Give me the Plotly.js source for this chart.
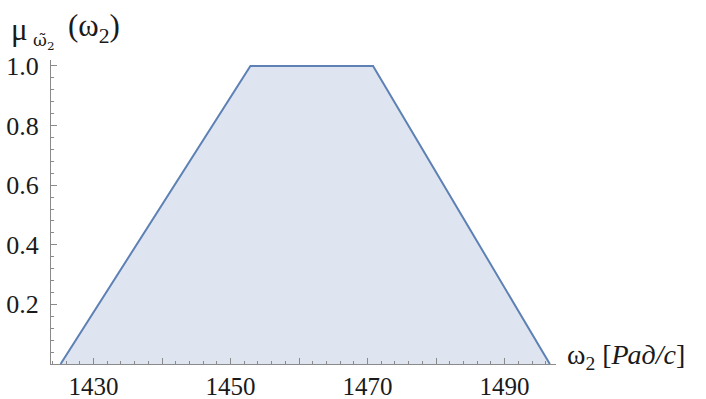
<!DOCTYPE html>
<html>
<head>
<meta charset="utf-8">
<script src="https://cdn.plot.ly/plotly-3.0.1.min.js"></script>
<style>html,body{margin:0;padding:0;background:#fff;}#chart{width:706px;height:399px;}</style>
</head>
<body>
<div id="chart"></div>
<script>
// Trapezoidal membership function of omega_2
const omega = [1425.2, 1452.9, 1470.8, 1496.6];
const mu = [0, 1, 1, 0];

const xTickVals = [1430, 1440, 1450, 1460, 1470, 1480, 1490];
const xTickText = ['1430', '', '1450', '', '1470', '', '1490'];
const yTickVals = [0.2, 0.4, 0.6, 0.8, 1.0];
const yTickText = ['0.2', '0.4', '0.6', '0.8', '1.0'];

const lineColor = 'rgb(94,129,181)';
const fillColor = 'rgb(222,229,240)';
const axisColor = '#8a8a8a';
const font = 'Liberation Serif';

const trace = {
  x: omega, y: mu, type: 'scatter', mode: 'lines',
  fill: 'tozeroy', fillcolor: fillColor,
  line: {color: lineColor, width: 2},
  hoverinfo: 'none'
};

const layout = {
  width: 706, height: 399,
  margin: {l: 51, r: 150, t: 60, b: 35},
  paper_bgcolor: '#fff', plot_bgcolor: '#fff',
  showlegend: false,
  font: {family: font, size: 25, color: '#1a1a1a'},
  xaxis: {
    range: [1423.8, 1497.5], showgrid: false, zeroline: false,
    showline: true, linecolor: axisColor, linewidth: 1,
    tickmode: 'array', tickvals: xTickVals, ticktext: xTickText,
    ticks: 'inside', ticklen: 6, tickcolor: axisColor, tickwidth: 1,
    ticklabelstandoff: 0,
    minor: {dtick: 2, tick0: 1430, ticks: 'inside', ticklen: 3, tickcolor: axisColor, showgrid: false},
    tickfont: {family: font, size: 25, color: '#1a1a1a'}
  },
  yaxis: {
    range: [0, 1.02], showgrid: false, zeroline: false,
    showline: true, linecolor: axisColor, linewidth: 1,
    tickmode: 'array', tickvals: yTickVals, ticktext: yTickText,
    ticks: 'inside', ticklen: 6, tickcolor: axisColor, tickwidth: 1,
    ticklabelstandoff: 6,
    minor: {dtick: 0.04, tick0: 0, ticks: 'inside', ticklen: 3, tickcolor: axisColor, showgrid: false},
    tickfont: {family: font, size: 26, color: '#1a1a1a'}
  },
  annotations: [
    {text: 'μ', xref: 'paper', yref: 'paper', x: -0.083, y: 1.1, xanchor: 'left', yanchor: 'middle', showarrow: false, font: {family: font, size: 31, color: '#1a1a1a'}},
    {text: 'ω\u0303<sub>2</sub>', xref: 'paper', yref: 'paper', x: -0.04, y: 1.062, xanchor: 'left', yanchor: 'middle', showarrow: false, font: {family: 'DejaVu Serif', size: 17, color: '#1a1a1a'}},
    {text: '(ω<sub>2</sub>)', xref: 'paper', yref: 'paper', x: 0.03, y: 1.105, xanchor: 'left', yanchor: 'middle', showarrow: false, font: {family: font, size: 31, color: '#1a1a1a'}},
    {text: 'ω<sub>2</sub> [<i>Рад/с</i>]', xref: 'paper', yref: 'paper', x: 1.018, y: 0.025, xanchor: 'left', yanchor: 'middle', showarrow: false, font: {family: font, size: 28, color: '#1a1a1a'}}
  ]
};

Plotly.newPlot('chart', [trace], layout, {staticPlot: true, displayModeBar: false});
</script>
</body>
</html>
